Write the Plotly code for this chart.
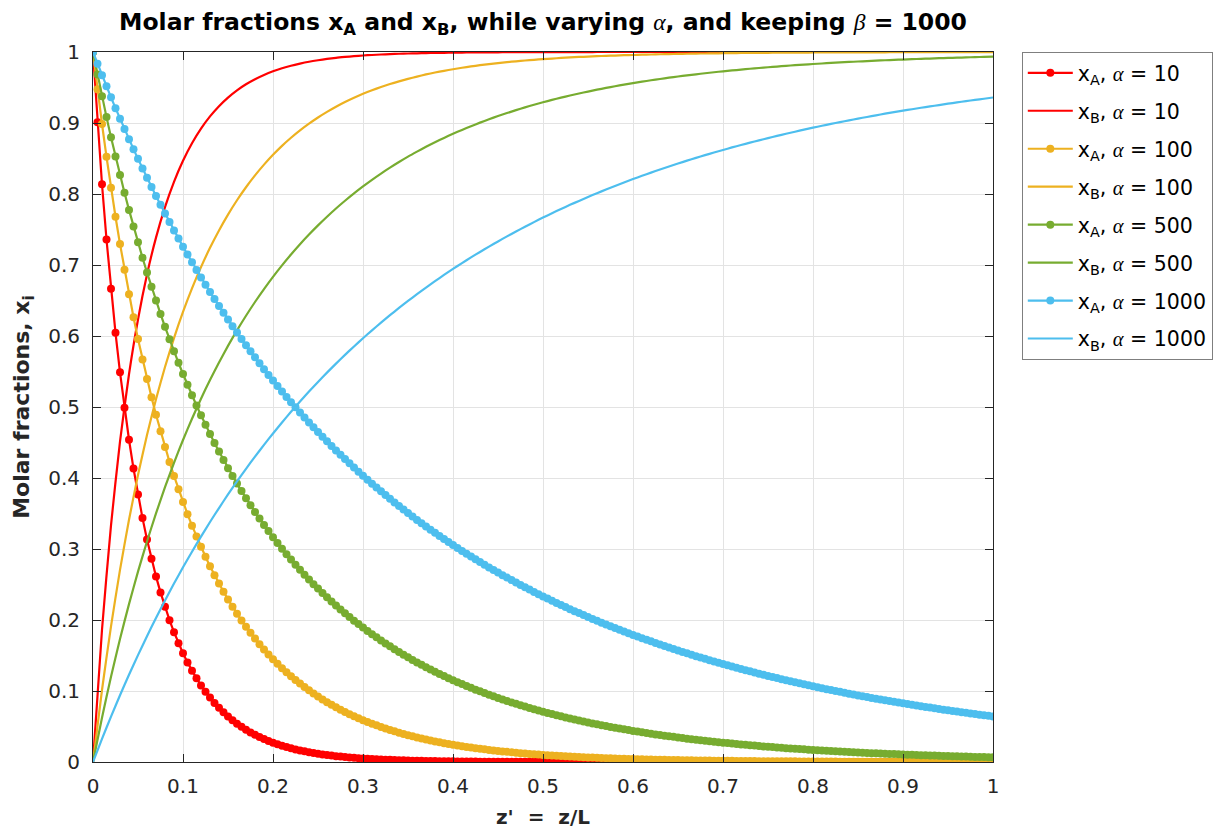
import numpy as np
import plotly.graph_objects as go

# ---------------- data ----------------
z_a = np.linspace(0, 1, 201)   # positions of the x_A samples (markers)
z_b = np.linspace(0, 1, 101)   # positions of the x_B samples (plain lines)

xA_10 = [1.0, 0.9012, 0.8137, 0.7359, 0.6666, 0.6045, 0.5489, 0.4989, 0.4539, 0.4133,
         0.3767, 0.3435, 0.3134, 0.2862, 0.2614, 0.2389, 0.2185, 0.1998, 0.1828, 0.1673,
         0.1532, 0.1403, 0.1285, 0.1178, 0.1079, 0.0989, 0.0907, 0.0832, 0.0763, 0.0699,
         0.0642, 0.0588, 0.0540, 0.0495, 0.0455, 0.0417, 0.0383, 0.0351, 0.0323, 0.0296,
         0.0272, 0.0250, 0.0229, 0.0210, 0.0193, 0.0177, 0.0163, 0.0150, 0.0137, 0.0126,
         0.0116, 0.0106, 0.0098, 0.0090, 0.0082, 0.0076, 0.0070, 0.0064, 0.0059, 0.0054,
         0.0049, 0.0045, 0.0042, 0.0038, 0.0035, 0.0032, 0.0030, 0.0027, 0.0025, 0.0023,
         0.0021, 0.0019, 0.0018, 0.0016, 0.0015, 0.0014, 0.0013, 0.0012, 0.0011, 0.0010,
         0.0009, 0.0008, 0.0008, 0.0007, 0.0006, 0.0006, 0.0005, 0.0005, 0.0005, 0.0004,
         0.0004, 0.0004, 0.0003, 0.0003, 0.0003, 0.0003, 0.0002, 0.0002, 0.0002, 0.0002,
         0.0002, 0.0001, 0.0001, 0.0001, 0.0001, 0.0001, 0.0001, 0.0001, 0.0001, 0.0001,
         0.0001, 0.0, 0.0, 0.0, 0.0, 0.0, 0.0, 0.0, 0.0, 0.0,
         0.0, 0.0, 0.0, 0.0, 0.0, 0.0, 0.0, 0.0, 0.0, 0.0,
         0.0, 0.0, 0.0, 0.0, 0.0, 0.0, 0.0, 0.0, 0.0, 0.0,
         0.0, 0.0, 0.0, 0.0, 0.0, 0.0, 0.0, 0.0, 0.0, 0.0,
         0.0, 0.0, 0.0, 0.0, 0.0, 0.0, 0.0, 0.0, 0.0, 0.0,
         0.0, 0.0, 0.0, 0.0, 0.0, 0.0, 0.0, 0.0, 0.0, 0.0,
         0.0, 0.0, 0.0, 0.0, 0.0, 0.0, 0.0, 0.0, 0.0, 0.0,
         0.0, 0.0, 0.0, 0.0, 0.0, 0.0, 0.0, 0.0, 0.0, 0.0,
         0.0, 0.0, 0.0, 0.0, 0.0, 0.0, 0.0, 0.0, 0.0, 0.0,
         0.0]

xA_100 = [1.0, 0.9477, 0.8986, 0.8524, 0.8089, 0.7680, 0.7295, 0.6932, 0.6589, 0.6265,
          0.5958, 0.5669, 0.5395, 0.5136, 0.4890, 0.4657, 0.4436, 0.4227, 0.4029, 0.3840,
          0.3661, 0.3491, 0.3329, 0.3176, 0.3030, 0.2891, 0.2758, 0.2632, 0.2513, 0.2399,
          0.2290, 0.2187, 0.2088, 0.1994, 0.1905, 0.1819, 0.1738, 0.1660, 0.1586, 0.1515,
          0.1448, 0.1384, 0.1322, 0.1264, 0.1208, 0.1155, 0.1104, 0.1055, 0.1009, 0.0964,
          0.0922, 0.0881, 0.0843, 0.0806, 0.0770, 0.0737, 0.0704, 0.0674, 0.0644, 0.0616,
          0.0589, 0.0564, 0.0539, 0.0516, 0.0493, 0.0472, 0.0451, 0.0432, 0.0413, 0.0395,
          0.0378, 0.0361, 0.0346, 0.0331, 0.0316, 0.0303, 0.0289, 0.0277, 0.0265, 0.0253,
          0.0243, 0.0232, 0.0222, 0.0212, 0.0203, 0.0194, 0.0186, 0.0178, 0.0170, 0.0163,
          0.0156, 0.0149, 0.0143, 0.0137, 0.0131, 0.0125, 0.0120, 0.0114, 0.0110, 0.0105,
          0.0100, 0.0096, 0.0092, 0.0088, 0.0084, 0.0080, 0.0077, 0.0074, 0.0070, 0.0067,
          0.0065, 0.0062, 0.0059, 0.0057, 0.0054, 0.0052, 0.0050, 0.0047, 0.0045, 0.0043,
          0.0042, 0.0040, 0.0038, 0.0036, 0.0035, 0.0033, 0.0032, 0.0031, 0.0029, 0.0028,
          0.0027, 0.0026, 0.0025, 0.0023, 0.0022, 0.0021, 0.0021, 0.0020, 0.0019, 0.0018,
          0.0017, 0.0016, 0.0016, 0.0015, 0.0014, 0.0014, 0.0013, 0.0013, 0.0012, 0.0012,
          0.0011, 0.0011, 0.0010, 0.0010, 0.0009, 0.0009, 0.0009, 0.0008, 0.0008, 0.0007,
          0.0007, 0.0007, 0.0007, 0.0006, 0.0006, 0.0006, 0.0005, 0.0005, 0.0005, 0.0005,
          0.0005, 0.0004, 0.0004, 0.0004, 0.0004, 0.0004, 0.0004, 0.0003, 0.0003, 0.0003,
          0.0003, 0.0003, 0.0003, 0.0003, 0.0002, 0.0002, 0.0002, 0.0002, 0.0002, 0.0002,
          0.0002, 0.0002, 0.0002, 0.0002, 0.0002, 0.0002, 0.0001, 0.0001, 0.0001, 0.0001,
          0.0001]

xA_500 = [1.0, 0.9682, 0.9376, 0.9083, 0.8800, 0.8529, 0.8268, 0.8017, 0.7776, 0.7543,
          0.7319, 0.7102, 0.6894, 0.6693, 0.6499, 0.6311, 0.6130, 0.5955, 0.5786, 0.5623,
          0.5465, 0.5312, 0.5165, 0.5022, 0.4883, 0.4749, 0.4619, 0.4494, 0.4372, 0.4254,
          0.4139, 0.4028, 0.3921, 0.3816, 0.3715, 0.3617, 0.3521, 0.3429, 0.3339, 0.3252,
          0.3167, 0.3085, 0.3005, 0.2927, 0.2852, 0.2779, 0.2707, 0.2638, 0.2571, 0.2505,
          0.2442, 0.2380, 0.2320, 0.2261, 0.2204, 0.2149, 0.2095, 0.2042, 0.1991, 0.1942,
          0.1893, 0.1846, 0.1800, 0.1756, 0.1712, 0.1670, 0.1629, 0.1589, 0.1550, 0.1512,
          0.1474, 0.1438, 0.1403, 0.1369, 0.1335, 0.1303, 0.1271, 0.1240, 0.1210, 0.1181,
          0.1152, 0.1124, 0.1097, 0.1070, 0.1045, 0.1019, 0.0995, 0.0971, 0.0947, 0.0925,
          0.0902, 0.0881, 0.0860, 0.0839, 0.0819, 0.0799, 0.0780, 0.0762, 0.0743, 0.0726,
          0.0708, 0.0691, 0.0675, 0.0659, 0.0643, 0.0628, 0.0613, 0.0598, 0.0584, 0.0570,
          0.0557, 0.0544, 0.0531, 0.0518, 0.0506, 0.0494, 0.0482, 0.0471, 0.0460, 0.0449,
          0.0438, 0.0428, 0.0418, 0.0408, 0.0398, 0.0389, 0.0380, 0.0371, 0.0362, 0.0354,
          0.0345, 0.0337, 0.0329, 0.0321, 0.0314, 0.0307, 0.0299, 0.0292, 0.0285, 0.0279,
          0.0272, 0.0266, 0.0260, 0.0253, 0.0248, 0.0242, 0.0236, 0.0231, 0.0225, 0.0220,
          0.0215, 0.0210, 0.0205, 0.0200, 0.0195, 0.0191, 0.0186, 0.0182, 0.0178, 0.0173,
          0.0169, 0.0165, 0.0162, 0.0158, 0.0154, 0.0151, 0.0147, 0.0144, 0.0140, 0.0137,
          0.0134, 0.0131, 0.0128, 0.0125, 0.0122, 0.0119, 0.0116, 0.0113, 0.0111, 0.0108,
          0.0106, 0.0103, 0.0101, 0.0098, 0.0096, 0.0094, 0.0092, 0.0090, 0.0087, 0.0085,
          0.0083, 0.0082, 0.0080, 0.0078, 0.0076, 0.0074, 0.0072, 0.0071, 0.0069, 0.0067,
          0.0066]

xA_1000 = [1.0, 0.9835, 0.9674, 0.9516, 0.9361, 0.9209, 0.9060, 0.8915, 0.8772, 0.8632,
           0.8495, 0.8360, 0.8228, 0.8098, 0.7972, 0.7847, 0.7725, 0.7605, 0.7487, 0.7372,
           0.7258, 0.7147, 0.7038, 0.6931, 0.6825, 0.6722, 0.6620, 0.6521, 0.6423, 0.6327,
           0.6232, 0.6139, 0.6048, 0.5958, 0.5870, 0.5784, 0.5699, 0.5615, 0.5533, 0.5452,
           0.5373, 0.5295, 0.5218, 0.5142, 0.5068, 0.4995, 0.4923, 0.4852, 0.4783, 0.4715,
           0.4647, 0.4581, 0.4516, 0.4452, 0.4389, 0.4327, 0.4266, 0.4206, 0.4147, 0.4089,
           0.4032, 0.3975, 0.3920, 0.3865, 0.3812, 0.3759, 0.3707, 0.3655, 0.3605, 0.3555,
           0.3506, 0.3458, 0.3410, 0.3364, 0.3318, 0.3272, 0.3228, 0.3184, 0.3140, 0.3098,
           0.3055, 0.3014, 0.2973, 0.2933, 0.2893, 0.2854, 0.2816, 0.2778, 0.2741, 0.2704,
           0.2668, 0.2632, 0.2597, 0.2562, 0.2528, 0.2494, 0.2461, 0.2428, 0.2396, 0.2364,
           0.2332, 0.2302, 0.2271, 0.2241, 0.2211, 0.2182, 0.2153, 0.2125, 0.2097, 0.2069,
           0.2042, 0.2015, 0.1989, 0.1963, 0.1937, 0.1912, 0.1887, 0.1862, 0.1838, 0.1814,
           0.1790, 0.1767, 0.1744, 0.1721, 0.1699, 0.1677, 0.1655, 0.1633, 0.1612, 0.1591,
           0.1571, 0.1550, 0.1530, 0.1511, 0.1491, 0.1472, 0.1453, 0.1434, 0.1416, 0.1398,
           0.1380, 0.1362, 0.1344, 0.1327, 0.1310, 0.1293, 0.1277, 0.1260, 0.1244, 0.1228,
           0.1213, 0.1197, 0.1182, 0.1167, 0.1152, 0.1137, 0.1123, 0.1108, 0.1094, 0.1080,
           0.1066, 0.1053, 0.1039, 0.1026, 0.1013, 0.1000, 0.0988, 0.0975, 0.0963, 0.0951,
           0.0938, 0.0927, 0.0915, 0.0903, 0.0892, 0.0881, 0.0869, 0.0858, 0.0848, 0.0837,
           0.0826, 0.0816, 0.0806, 0.0795, 0.0785, 0.0775, 0.0766, 0.0756, 0.0747, 0.0737,
           0.0728, 0.0719, 0.0710, 0.0701, 0.0692, 0.0683, 0.0675, 0.0666, 0.0658, 0.0650,
           0.0641]

xB_10 = [0.0, 0.1863, 0.3334, 0.4511, 0.5461, 0.6233, 0.6866, 0.7386, 0.7815, 0.8172,
         0.8468, 0.8715, 0.8921, 0.9093, 0.9237, 0.9358, 0.9460, 0.9545, 0.9617, 0.9677,
         0.9728, 0.9771, 0.9807, 0.9837, 0.9863, 0.9884, 0.9902, 0.9918, 0.9930, 0.9941,
         0.9951, 0.9958, 0.9965, 0.9970, 0.9975, 0.9979, 0.9982, 0.9985, 0.9987, 0.9989,
         0.9991, 0.9992, 0.9994, 0.9995, 0.9995, 0.9996, 0.9997, 0.9997, 0.9998, 0.9998,
         0.9998, 0.9999, 0.9999, 0.9999, 0.9999, 0.9999, 1.0, 1.0, 1.0, 1.0,
         1.0, 1.0, 1.0, 1.0, 1.0, 1.0, 1.0, 1.0, 1.0, 1.0,
         1.0, 1.0, 1.0, 1.0, 1.0, 1.0, 1.0, 1.0, 1.0, 1.0,
         1.0, 1.0, 1.0, 1.0, 1.0, 1.0, 1.0, 1.0, 1.0, 1.0,
         1.0, 1.0, 1.0, 1.0, 1.0, 1.0, 1.0, 1.0, 1.0, 1.0,
         1.0]

xB_100 = [0.0, 0.1014, 0.1911, 0.2705, 0.3411, 0.4042, 0.4605, 0.5110, 0.5564, 0.5971,
          0.6339, 0.6671, 0.6970, 0.7242, 0.7487, 0.7710, 0.7912, 0.8095, 0.8262, 0.8414,
          0.8552, 0.8678, 0.8792, 0.8896, 0.8991, 0.9078, 0.9157, 0.9230, 0.9296, 0.9356,
          0.9411, 0.9461, 0.9507, 0.9549, 0.9587, 0.9622, 0.9654, 0.9684, 0.9711, 0.9735,
          0.9757, 0.9778, 0.9797, 0.9814, 0.9830, 0.9844, 0.9857, 0.9869, 0.9880, 0.9890,
          0.9900, 0.9908, 0.9916, 0.9923, 0.9930, 0.9935, 0.9941, 0.9946, 0.9950, 0.9955,
          0.9958, 0.9962, 0.9965, 0.9968, 0.9971, 0.9973, 0.9975, 0.9978, 0.9979, 0.9981,
          0.9983, 0.9984, 0.9986, 0.9987, 0.9988, 0.9989, 0.9990, 0.9991, 0.9991, 0.9992,
          0.9993, 0.9993, 0.9994, 0.9995, 0.9995, 0.9995, 0.9996, 0.9996, 0.9996, 0.9997,
          0.9997, 0.9997, 0.9998, 0.9998, 0.9998, 0.9998, 0.9998, 0.9998, 0.9999, 0.9999,
          0.9999]

xB_500 = [0.0, 0.0624, 0.1200, 0.1732, 0.2224, 0.2681, 0.3106, 0.3501, 0.3870, 0.4214,
          0.4535, 0.4835, 0.5117, 0.5381, 0.5628, 0.5861, 0.6079, 0.6285, 0.6479, 0.6661,
          0.6833, 0.6995, 0.7148, 0.7293, 0.7429, 0.7558, 0.7680, 0.7796, 0.7905, 0.8009,
          0.8107, 0.8200, 0.8288, 0.8371, 0.8450, 0.8526, 0.8597, 0.8665, 0.8729, 0.8790,
          0.8848, 0.8903, 0.8955, 0.9005, 0.9053, 0.9098, 0.9140, 0.9181, 0.9220, 0.9257,
          0.9292, 0.9325, 0.9357, 0.9387, 0.9416, 0.9443, 0.9469, 0.9494, 0.9518, 0.9540,
          0.9562, 0.9582, 0.9602, 0.9620, 0.9638, 0.9655, 0.9671, 0.9686, 0.9701, 0.9715,
          0.9728, 0.9740, 0.9752, 0.9764, 0.9775, 0.9785, 0.9795, 0.9805, 0.9814, 0.9822,
          0.9831, 0.9838, 0.9846, 0.9853, 0.9860, 0.9866, 0.9872, 0.9878, 0.9884, 0.9889,
          0.9894, 0.9899, 0.9904, 0.9908, 0.9913, 0.9917, 0.9920, 0.9924, 0.9928, 0.9931,
          0.9934]

xB_1000 = [0.0, 0.0326, 0.0639, 0.0940, 0.1228, 0.1505, 0.1772, 0.2028, 0.2275, 0.2513,
           0.2742, 0.2962, 0.3175, 0.3380, 0.3577, 0.3768, 0.3952, 0.4130, 0.4301, 0.4467,
           0.4627, 0.4782, 0.4932, 0.5077, 0.5217, 0.5353, 0.5484, 0.5611, 0.5734, 0.5853,
           0.5968, 0.6080, 0.6188, 0.6293, 0.6395, 0.6494, 0.6590, 0.6682, 0.6772, 0.6860,
           0.6945, 0.7027, 0.7107, 0.7184, 0.7259, 0.7332, 0.7403, 0.7472, 0.7539, 0.7604,
           0.7668, 0.7729, 0.7789, 0.7847, 0.7903, 0.7958, 0.8011, 0.8063, 0.8113, 0.8162,
           0.8210, 0.8256, 0.8301, 0.8345, 0.8388, 0.8429, 0.8470, 0.8509, 0.8547, 0.8584,
           0.8620, 0.8656, 0.8690, 0.8723, 0.8756, 0.8787, 0.8818, 0.8848, 0.8877, 0.8906,
           0.8934, 0.8961, 0.8987, 0.9012, 0.9037, 0.9062, 0.9085, 0.9108, 0.9131, 0.9152,
           0.9174, 0.9194, 0.9215, 0.9234, 0.9253, 0.9272, 0.9290, 0.9308, 0.9325, 0.9342,
           0.9359]

alphas = ["10", "100", "500", "1000"]
colors = ["#FF0000", "#EDB120", "#77AC30", "#4DBEEE"]

# ---------------- figure ----------------
SANS = "DejaVu Sans, Verdana, sans-serif"
GREEK = '<span style="font-family:Liberation Serif;font-weight:normal"><i>{}</i></span>'

fig = go.Figure()
pairs = [(xA_10, xB_10), (xA_100, xB_100), (xA_500, xB_500), (xA_1000, xB_1000)]
for (ya, yb), a, c in zip(pairs, alphas, colors):
    fig.add_trace(go.Scatter(
        x=z_a, y=ya, mode="lines+markers",
        name="x<sub>A</sub>,&nbsp;" + GREEK.format("α") + " = " + a,
        legendgroup="A" + a,
        line=dict(color=c, width=2.2),
        marker=dict(color=c, size=8, symbol="circle"),
    ))
    fig.add_trace(go.Scatter(
        x=z_b, y=yb, mode="lines",
        name="x<sub>B</sub>,&nbsp;" + GREEK.format("α") + " = " + a,
        legendgroup="B" + a,
        line=dict(color=c, width=2.2, shape="spline", smoothing=0.6),
    ))

axis_common = dict(
    range=[0, 1], dtick=0.1, tick0=0,
    showgrid=True, gridcolor="#E3E3E3", gridwidth=1,
    zeroline=False,
    showline=True, linecolor="#262626", linewidth=1, mirror="ticks",
    ticks="inside", ticklen=8, tickcolor="#262626", tickwidth=1,
    tickfont=dict(family=SANS, size=20, color="#262626"),
)

fig.update_layout(
    width=1225, height=833,
    margin=dict(l=93, r=232, t=52, b=71, autoexpand=False),
    paper_bgcolor="white", plot_bgcolor="white",
    title=dict(
        text="<b>Molar fractions x<sub>A</sub> and x<sub>B</sub>, while varying "
             + GREEK.format("α") + ", and keeping " + GREEK.format("β") + " = 1000</b>",
        x=0.5, xref="paper", xanchor="center",
        y=1 - 22 / 833, yref="container", yanchor="middle",
        font=dict(family=SANS, size=23.5, color="black"),
    ),
    xaxis=dict(axis_common, ticklabelstandoff=6,
               title=dict(text="<b>z'&nbsp; = &nbsp;z/L</b>", standoff=12,
                          font=dict(family=SANS, size=20, color="#262626"))),
    yaxis=dict(axis_common, ticklabelstandoff=8,
               title=dict(text="<b>Molar fractions, x<sub>i</sub></b>", standoff=12,
                          font=dict(family=SANS, size=22, color="#262626"))),
    legend=dict(
        x=1.032, y=1.0, xanchor="left", yanchor="top",
        bgcolor="white", bordercolor="#7F7F7F", borderwidth=1,
        font=dict(family=SANS, size=20.5, color="black"),
        tracegroupgap=8.3, itemwidth=45,
    ),
    showlegend=True,
)

fig.write_html("out.html", config={"displayModeBar": False},
               post_script="document.body.style.margin='0';")
